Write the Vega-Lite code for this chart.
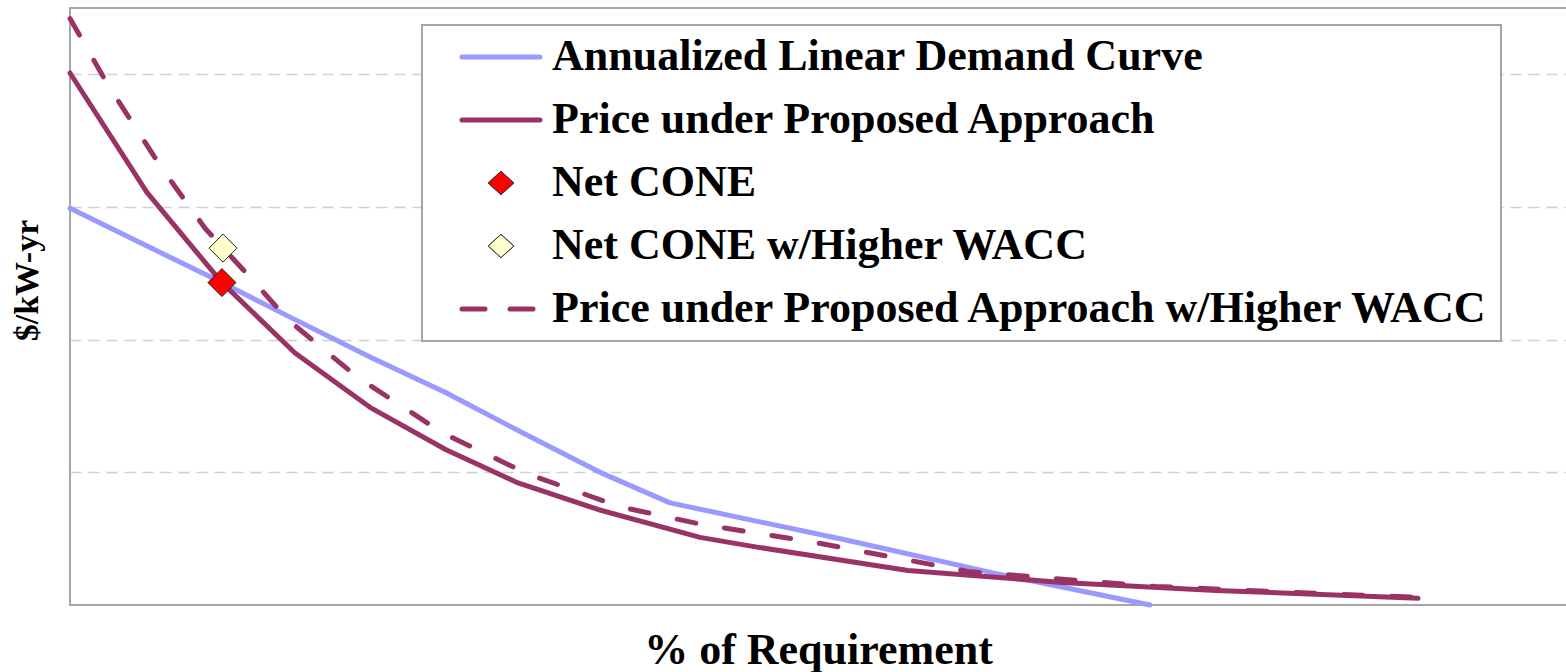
{
  "$schema": "https://vega.github.io/schema/vega-lite/v6.json",
  "width": 1500,
  "height": 597,
  "autosize": {"type": "none"},
  "padding": {"left": 70, "top": 8, "right": 0, "bottom": 67},
  "background": "white",
  "config": {
    "view": {"stroke": "#a6a6a6", "strokeWidth": 2},
    "font": "Liberation Serif"
  },
  "data": {
    "values": [
      {"series": "Annualized Linear Demand Curve", "x": 0, "y": 2.99},
      {"series": "Annualized Linear Demand Curve", "x": 10.13, "y": 2.43},
      {"series": "Annualized Linear Demand Curve", "x": 14.67, "y": 2.17},
      {"series": "Annualized Linear Demand Curve", "x": 20, "y": 1.87},
      {"series": "Annualized Linear Demand Curve", "x": 25.07, "y": 1.6},
      {"series": "Annualized Linear Demand Curve", "x": 30.13, "y": 1.3},
      {"series": "Annualized Linear Demand Curve", "x": 35.53, "y": 0.99},
      {"series": "Annualized Linear Demand Curve", "x": 40, "y": 0.77},
      {"series": "Annualized Linear Demand Curve", "x": 51.73, "y": 0.49},
      {"series": "Annualized Linear Demand Curve", "x": 61.6, "y": 0.24},
      {"series": "Annualized Linear Demand Curve", "x": 72, "y": 0},
      {"series": "Price under Proposed Approach", "x": 0, "y": 4.01},
      {"series": "Price under Proposed Approach", "x": 5.13, "y": 3.11},
      {"series": "Price under Proposed Approach", "x": 10.13, "y": 2.43},
      {"series": "Price under Proposed Approach", "x": 15, "y": 1.9},
      {"series": "Price under Proposed Approach", "x": 20, "y": 1.49},
      {"series": "Price under Proposed Approach", "x": 25.07, "y": 1.17},
      {"series": "Price under Proposed Approach", "x": 29.87, "y": 0.92},
      {"series": "Price under Proposed Approach", "x": 35.2, "y": 0.72},
      {"series": "Price under Proposed Approach", "x": 42, "y": 0.51},
      {"series": "Price under Proposed Approach", "x": 45.6, "y": 0.44},
      {"series": "Price under Proposed Approach", "x": 55.87, "y": 0.26},
      {"series": "Price under Proposed Approach", "x": 66.13, "y": 0.17},
      {"series": "Price under Proposed Approach", "x": 76.4, "y": 0.11},
      {"series": "Price under Proposed Approach", "x": 89.87, "y": 0.05},
      {"series": "Price under Proposed Approach w/Higher WACC", "x": 0, "y": 4.42},
      {"series": "Price under Proposed Approach w/Higher WACC", "x": 2.53, "y": 3.92},
      {"series": "Price under Proposed Approach w/Higher WACC", "x": 6.13, "y": 3.29},
      {"series": "Price under Proposed Approach w/Higher WACC", "x": 9, "y": 2.84},
      {"series": "Price under Proposed Approach w/Higher WACC", "x": 12.33, "y": 2.43},
      {"series": "Price under Proposed Approach w/Higher WACC", "x": 14.53, "y": 2.15},
      {"series": "Price under Proposed Approach w/Higher WACC", "x": 19.13, "y": 1.72},
      {"series": "Price under Proposed Approach w/Higher WACC", "x": 24.8, "y": 1.3},
      {"series": "Price under Proposed Approach w/Higher WACC", "x": 30.47, "y": 0.99},
      {"series": "Price under Proposed Approach w/Higher WACC", "x": 36.67, "y": 0.74},
      {"series": "Price under Proposed Approach w/Higher WACC", "x": 42, "y": 0.61},
      {"series": "Price under Proposed Approach w/Higher WACC", "x": 49.73, "y": 0.47},
      {"series": "Price under Proposed Approach w/Higher WACC", "x": 60, "y": 0.25},
      {"series": "Price under Proposed Approach w/Higher WACC", "x": 72.33, "y": 0.14},
      {"series": "Price under Proposed Approach w/Higher WACC", "x": 84.6, "y": 0.08},
      {"series": "Price under Proposed Approach w/Higher WACC", "x": 89.53, "y": 0.06},
      {"series": "Net CONE", "x": 10.13, "y": 2.43},
      {"series": "Net CONE w/Higher WACC", "x": 10.2, "y": 2.69}
    ]
  },
  "encoding": {
    "x": {
      "field": "x", "type": "quantitative",
      "scale": {"domain": [0, 100], "nice": false, "zero": false},
      "axis": {
        "title": "% of Requirement", "labels": false, "ticks": false, "domain": false, "grid": false,
        "titleFont": "Liberation Serif", "titleFontSize": 44, "titleFontWeight": "bold", "titleColor": "black",
        "titleX": 748, "titleY": 58, "titleAlign": "center", "titleBaseline": "alphabetic"
      }
    },
    "y": {
      "field": "y", "type": "quantitative",
      "scale": {"domain": [0, 4.5], "nice": false},
      "axis": {
        "title": "$/kW-yr", "labels": false, "ticks": false, "domain": false, "grid": true,
        "values": [1, 2, 3, 4], "gridColor": "#d0d0d0", "gridDash": [11, 7], "gridWidth": 1.5,
        "titleFont": "Liberation Serif", "titleFontSize": 34, "titleFontWeight": "bold", "titleColor": "black",
        "titleAngle": 270, "titleX": -43, "titleY": 272, "titleAlign": "center", "titleBaseline": "middle"
      }
    }
  },
  "layer": [
    {
      "transform": [{"filter": "datum.series == 'Annualized Linear Demand Curve' || datum.series == 'Price under Proposed Approach'"}],
      "mark": {"type": "line", "strokeWidth": 5, "strokeCap": "round", "strokeJoin": "round"},
      "encoding": {
        "detail": {"field": "series"},
        "stroke": {
          "field": "series", "type": "nominal",
          "scale": {
            "domain": ["Annualized Linear Demand Curve", "Price under Proposed Approach", "Net CONE", "Net CONE w/Higher WACC", "Price under Proposed Approach w/Higher WACC"],
            "range": ["#9999FF", "#993366", "#333333", "#333333", "#993366"]
          },
          "legend": {
            "orient": "none", "legendX": 352, "legendY": 17, "title": null,
            "padding": 10, "clipHeight": 44, "rowPadding": 19,
            "symbolSize": 6084, "symbolOffset": 47, "labelOffset": 29,
            "labelFont": "Liberation Serif", "labelFontSize": 44, "labelFontWeight": "bold", "labelColor": "black",
            "labelLimit": 1400, "strokeColor": "#a6a6a6", "fillColor": "white",
            "encode": {
              "legend": {"update": {"strokeWidth": {"value": 2}}},
              "symbols": {
                "update": {
                  "shape": {"signal": "(datum.value == 'Net CONE' || datum.value == 'Net CONE w/Higher WACC') ? 'M-0.33,0L0,-0.3L0.33,0L0,0.3Z' : 'stroke'"},
                  "fill": {"signal": "datum.value == 'Net CONE' ? '#FF0000' : (datum.value == 'Net CONE w/Higher WACC' ? '#FFFFCC' : 'transparent')"},
                  "strokeWidth": {"signal": "(datum.value == 'Net CONE' || datum.value == 'Net CONE w/Higher WACC') ? 1 : 5"},
                  "strokeDash": {"signal": "datum.value == 'Price under Proposed Approach w/Higher WACC' ? [23, 25] : [1, 0]"},
                  "strokeCap": {"value": "round"},
                  "opacity": {"value": 1}
                }
              }
            }
          }
        }
      }
    },
    {
      "transform": [{"filter": "datum.series == 'Price under Proposed Approach w/Higher WACC'"}],
      "mark": {"type": "line", "strokeWidth": 5, "strokeDash": [19, 29], "strokeCap": "round"},
      "encoding": {
        "stroke": {"field": "series", "type": "nominal"}
      }
    },
    {
      "transform": [{"filter": "datum.series == 'Net CONE' || datum.series == 'Net CONE w/Higher WACC'"}],
      "mark": {"type": "point", "shape": "diamond", "filled": true, "size": 784, "stroke": "#222222", "strokeWidth": 1, "opacity": 1},
      "encoding": {
        "fill": {
          "field": "series", "type": "nominal",
          "scale": {"domain": ["Net CONE", "Net CONE w/Higher WACC"], "range": ["#FF0000", "#FFFFCC"]},
          "legend": null
        }
      }
    }
  ]
}
